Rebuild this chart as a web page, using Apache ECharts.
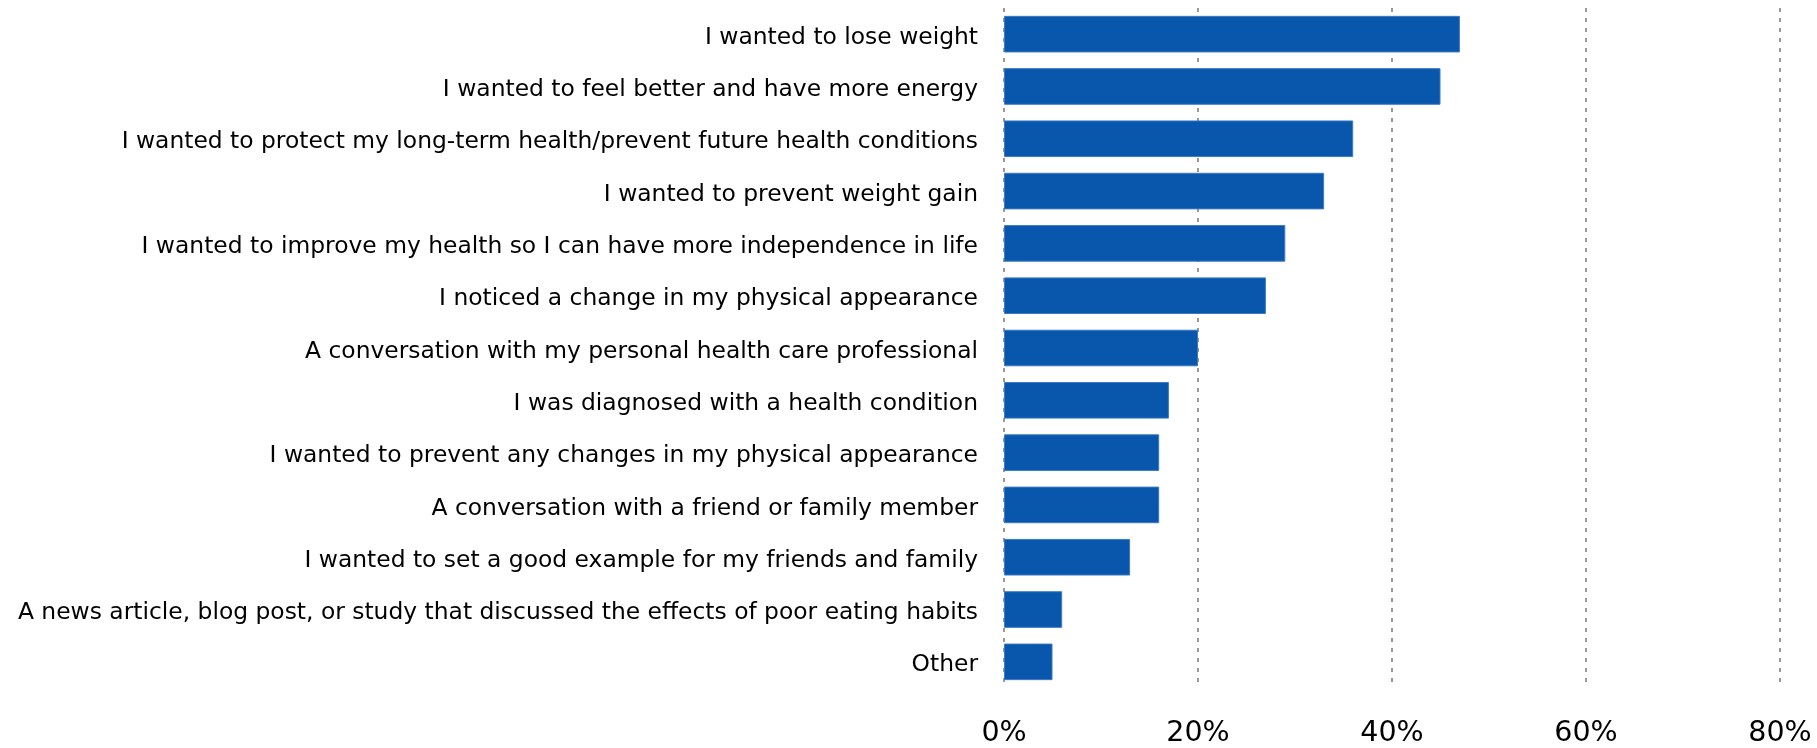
<!DOCTYPE html>
<html>
<head>
<meta charset="utf-8">
<script src="https://cdn.jsdelivr.net/npm/echarts@6/dist/echarts.min.js"></script>
<style>
  html, body { margin: 0; padding: 0; background: #ffffff; }
  #chart { width: 1817px; height: 748px; }
</style>
</head>
<body>
<div id="chart"></div>
<script>
// Reasons for changing eating habits (share of respondents, %)
const categories = [
  'I wanted to lose weight',
  'I wanted to feel better and have more energy',
  'I wanted to protect my long-term health/prevent future health conditions',
  'I wanted to prevent weight gain',
  'I wanted to improve my health so I can have more independence in life',
  'I noticed a change in my physical appearance',
  'A conversation with my personal health care professional',
  'I was diagnosed with a health condition',
  'I wanted to prevent any changes in my physical appearance',
  'A conversation with a friend or family member',
  'I wanted to set a good example for my friends and family',
  'A news article, blog post, or study that discussed the effects of poor eating habits',
  'Other'
];
const values = [47, 45, 36, 33, 29, 27, 20, 17, 16, 16, 13, 6, 5];
const xTicks = [0, 20, 40, 60, 80];

const chart = echarts.init(document.getElementById('chart'), null, { renderer: 'canvas' });
chart.setOption({
  animation: false,
  backgroundColor: '#ffffff',
  grid: { left: 1004, right: 37, top: 8, bottom: 58, containLabel: false },
  xAxis: {
    type: 'value',
    min: xTicks[0],
    max: xTicks[xTicks.length - 1],
    interval: xTicks[1] - xTicks[0],
    axisLine: { show: false },
    axisTick: { show: false },
    axisLabel: {
      formatter: v => v + '%',
      fontFamily: 'DejaVu Sans',
      fontSize: 28.5,
      color: '#000000',
      margin: 31
    },
    splitLine: {
      show: true,
      lineStyle: { color: '#999999', width: 2, type: [4, 6] }
    }
  },
  yAxis: {
    type: 'category',
    inverse: true,
    data: categories,
    axisLine: { show: false },
    axisTick: { show: false },
    axisLabel: {
      fontFamily: 'DejaVu Sans',
      fontSize: 23.4,
      color: '#000000',
      margin: 26,
      verticalAlign: 'top',
      lineHeight: 7
    }
  },
  series: [{
    type: 'bar',
    data: values,
    barWidth: '70%',
    itemStyle: { color: '#0956AD', borderColor: '#3C7AC4', borderWidth: 1 }
  }]
});
</script>
</body>
</html>
